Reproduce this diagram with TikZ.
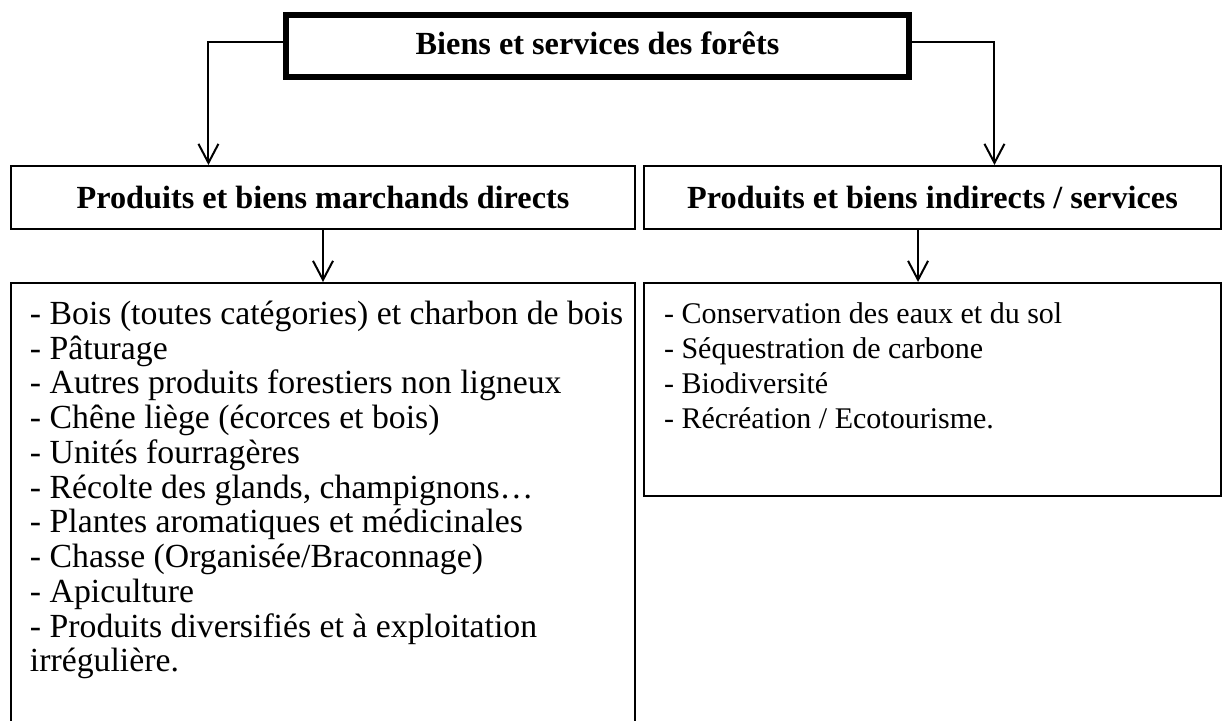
\documentclass[tikz,border=0pt]{standalone}
\usepackage{fontspec}
\setmainfont{Liberation Serif}
\usetikzlibrary{positioning, calc, arrows.meta}
\tikzset{
  % Boxes
  titlebox/.style = { draw, line width=2.6pt, minimum width=249.2pt, minimum height=24.8pt,
                      inner sep=0, font=\fontsize{12.9}{13.9}\selectfont\bfseries },
  headbox/.style  = { draw, line width=0.8pt, minimum height=25.2pt, inner sep=0,
                      font=\fontsize{12.9}{13.9}\selectfont\bfseries },
  listbox/.style  = { draw, line width=0.8pt, inner sep=0 },
  listtext/.style = { align=left, inner sep=0, font=\fontsize{12}{13.9}\selectfont },
  % Connectors
  link/.style     = { line width=0.8pt, -{Straight Barb[length=7.6pt, width=8pt]} }
}
\begin{document}
\begin{tikzpicture}[x=0.4pt, y=-0.4pt]

  \useasboundingbox (0,0) rectangle (1223,720);

  \node[titlebox] (top) at (597.5,46) {\raisebox{2.4pt}{Biens et services des forêts}};

  \node[headbox, minimum width=249.6pt] (dir) at (323,197.5) {Produits et biens marchands directs};
  \node[headbox, minimum width=230.8pt] (ind) at (932.5,197.5) {Produits et biens indirects / services};

  \node[listbox, minimum width=249.6pt, minimum height=176.4pt] (dlist) at (323,503.5) {};
  \node[listbox, minimum width=230.8pt, minimum height=85.2pt] (ilist) at (932.5,389.5) {};

  \node[listtext, font=\fontsize{13.5}{13.9}\selectfont, anchor=north west] (dtext)
    at ([shift={(7.8pt,-7.4pt)}]dlist.north west)
    {- Bois (toutes catégories) et charbon de bois\\
     - Pâturage\\
     - Autres produits forestiers non ligneux\\
     - Chêne liège (écorces et bois)\\
     - Unités fourragères\\
     - Récolte des glands, champignons…\\
     - Plantes aromatiques et médicinales\\
     - Chasse (Organisée/Braconnage)\\
     - Apiculture\\
     - Produits diversifiés et à exploitation\\
     irrégulière.};
  \node[listtext, anchor=north west] (itext) at ([shift={(8.2pt,-8.2pt)}]ilist.north west)
    {- Conservation des eaux et du sol\\
     - Séquestration de carbone\\
     - Biodiversité\\
     - Récréation / Ecotourisme.};

  \draw[link] ([yshift=1.6pt]top.west) -| ($(dir.north west)!0.317!(dir.north east)$);
  \draw[link] ([yshift=1.6pt]top.east) -| ($(ind.north west)!0.607!(ind.north east)$);
  \draw[link] (dir.south) -- (dlist.north);
  \draw[link] ($(ind.south west)!0.475!(ind.south east)$) coordinate (idown)
    -- (idown |- ilist.north);

\end{tikzpicture}
\end{document}
